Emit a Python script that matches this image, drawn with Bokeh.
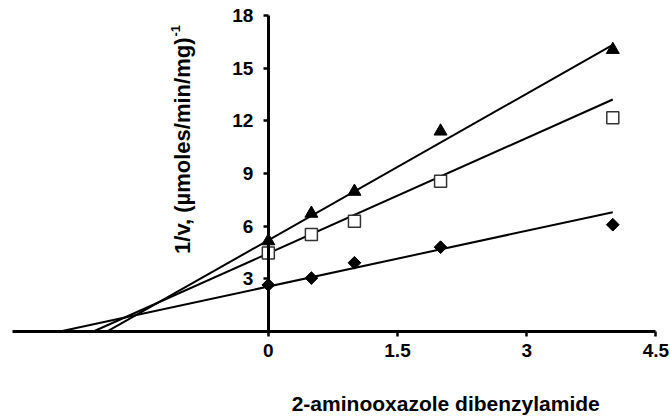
import math
from bokeh.plotting import figure
from bokeh.models import Range1d, FixedTicker, Label
from bokeh.embed import file_html
from bokeh.resources import INLINE

# ---- data ----
conc = [0, 0.5, 1, 2, 4]
triangle_vals = [5.15, 6.72, 7.97, 11.4, 16.05]
square_vals = [4.47, 5.52, 6.28, 8.56, 12.17]
diamond_vals = [2.65, 3.04, 3.91, 4.8, 6.08]

# fitted lines (slope, intercept)
fit_slopes = [2.78, 2.19, 1.058]
fit_intercepts = [5.2, 4.45, 2.56]
fit_end_x = 4

x_ticks = [0, 1.5, 3, 4.5]
y_ticks = [3, 6, 9, 12, 15, 18]
x_axis_extent = (-2.97, 4.5)
y_axis_extent = (0, 18)

x_title = "2-aminooxazole dibenzylamide"
y_title = "1/v, (\u00b5moles/min/mg)"
y_title_sup = "-1"

FONT = "Liberation Sans"

p = figure(width=670, height=417, output_backend="svg", toolbar_location=None,
           x_range=Range1d(-3.11, 4.67), y_range=Range1d(-4.90, 18.85),
           min_border_left=0, min_border_right=0, min_border_top=0,
           min_border_bottom=0)
p.outline_line_color = None
p.grid.visible = False
p.background_fill_color = "white"
p.border_fill_color = "white"

# axes crossing at the origin
p.yaxis.fixed_location = 0
p.xaxis.fixed_location = 0
p.xaxis.bounds = x_axis_extent
p.yaxis.bounds = y_axis_extent
for ax in (p.xaxis, p.yaxis):
    ax.axis_line_width = 3
    ax.axis_line_color = "black"
    ax.major_tick_line_width = 2.5
    ax.major_tick_line_color = "black"
    ax.major_tick_out = 5
    ax.major_tick_in = 0
    ax.minor_tick_line_color = None
    ax.major_label_text_font = FONT
    ax.major_label_text_font_style = "bold"
    ax.major_label_text_font_size = "19px"
    ax.major_label_text_color = "black"
p.xaxis.ticker = FixedTicker(ticks=x_ticks)
p.yaxis.ticker = FixedTicker(ticks=y_ticks)
p.xaxis.major_label_standoff = 8
p.yaxis.major_label_standoff = 10

# fitted lines
for m, b in zip(fit_slopes, fit_intercepts):
    x0 = -b / m
    p.line([x0, fit_end_x], [m * x0 + b, m * fit_end_x + b], line_color="black", line_width=2)

# markers
p.scatter(conc, triangle_vals, marker="triangle", size=13, fill_color="black", line_color="black")
p.scatter(conc, square_vals, marker="square", size=12, fill_color="white", line_color="#333333", line_width=1.5)
p.scatter(conc, diamond_vals, marker="square", size=9, angle=math.pi / 4,
          fill_color="black", line_color="black")

# titles
p.add_layout(Label(x=2.06, y=-4.1, text=x_title, text_align="center", text_baseline="middle",
                   text_font=FONT, text_font_style="bold", text_font_size="21px", text_color="black"))
p.add_layout(Label(x=0, y=16.74, x_offset=-86, text=y_title, angle=math.pi / 2,
                   text_align="right", text_baseline="middle",
                   text_font=FONT, text_font_style="bold", text_font_size="22px", text_color="black"))
p.add_layout(Label(x=0, y=16.8, x_offset=-93, text=y_title_sup, angle=math.pi / 2,
                   text_align="left", text_baseline="middle",
                   text_font=FONT, text_font_style="bold", text_font_size="13px", text_color="black"))

open("out.html", "w").write(file_html(p, INLINE))
